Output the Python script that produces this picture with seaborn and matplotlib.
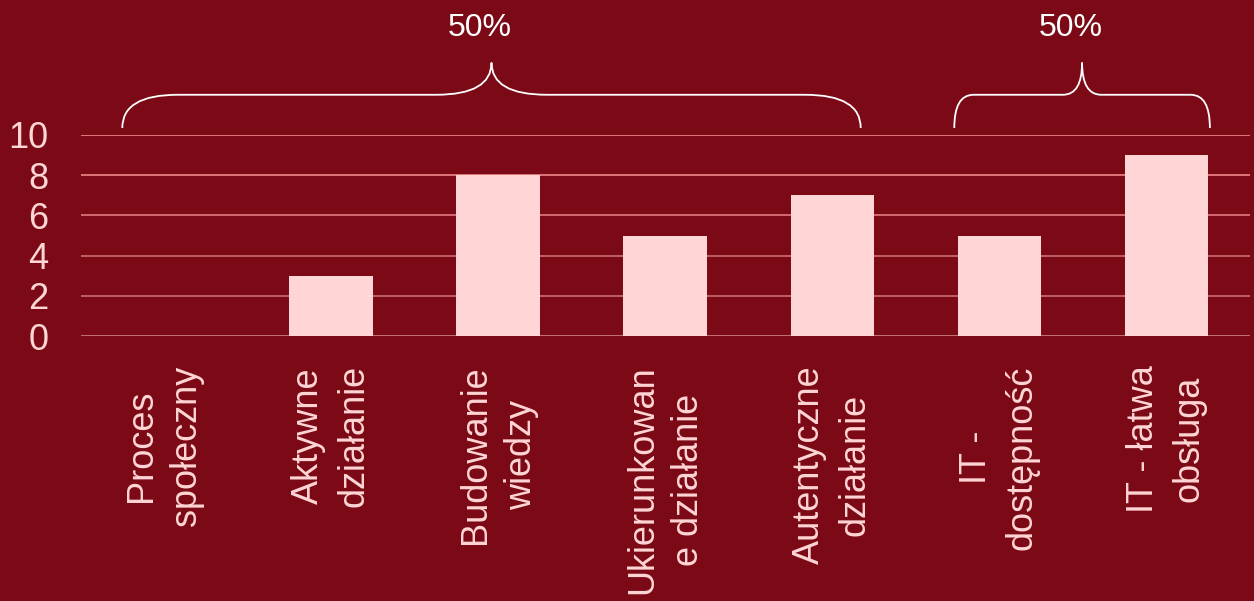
import numpy as np
import pandas as pd
import seaborn as sns
import matplotlib.pyplot as plt
from matplotlib.path import Path
from matplotlib.patches import PathPatch

# data
categories = ["Proces\nspołeczny", "Aktywne\ndziałanie", "Budowanie\nwiedzy",
              "Ukierunkowan\ne działanie", "Autentyczne\ndziałanie",
              "IT -\ndostępność", "IT - łatwa\nobsługa"]
values = [0, 3, 8, 5, 7, 5, 9]
y_ticks = [0, 2, 4, 6, 8, 10]

# groups marked with braces above the bars: (first index, last index, label)
groups = [(0, 4, "50%"), (5, 6, "50%")]

bg = "#7B0A16"
bar_col = "#FFD5D5"
# gridlines fade a little towards the bottom in the original
grid_cols = ["#D08286", "#C86E72", "#CC6E72", "#E07A7E", "#F08689", "#F28A8C"]

sns.set_style("white")
plt.rcParams['font.family'] = ['Liberation Sans', 'DejaVu Sans']

df = pd.DataFrame({"cat": categories, "val": values})

fig = plt.figure(figsize=(12.54, 6.01), dpi=100, facecolor=bg)
ax = fig.add_axes([0.0642, 0.4409, 0.9326, 0.3345])
ax.set_facecolor(bg)

sns.barplot(data=df, x="cat", y="val", color=bar_col, width=0.5,
            saturation=1, linewidth=0, ax=ax, zorder=3)

ax.set_ylim(0, 10)
ax.set_xlim(-0.5, len(categories) - 0.5)
ax.set_yticks(y_ticks)
for yv, gc in zip(y_ticks, grid_cols):
    ax.axhline(yv, color=gc, linewidth=1.2, zorder=1)
ax.set_xlabel("")
ax.set_ylabel("")
for s in ax.spines.values():
    s.set_visible(False)

ax.tick_params(axis='y', length=0, pad=23, labelsize=26, labelcolor=bar_col)
ax.tick_params(axis='x', length=0, pad=21, labelsize=26, labelcolor=bar_col)
for lbl in ax.get_xticklabels():
    lbl.set_rotation(90)
    lbl.set_ha('center')
    lbl.set_va('top')
    lbl.set_multialignment('center')
    lbl.set_linespacing(1.4)


def brace(ax, x0, x1, yb, ym, yt):
    c = 0.075 * (x1 - x0)
    xm = (x0 + x1) / 2
    verts = [(x0, yb), (x0, ym), (x0 + c, ym),
             (xm - c, ym),
             (xm, ym), (xm, yt),
             (xm, ym), (xm + c, ym),
             (x1 - c, ym),
             (x1, ym), (x1, yb)]
    codes = [Path.MOVETO, Path.CURVE3, Path.CURVE3,
             Path.LINETO,
             Path.CURVE3, Path.CURVE3,
             Path.CURVE3, Path.CURVE3,
             Path.LINETO,
             Path.CURVE3, Path.CURVE3]
    p = PathPatch(Path(verts, codes), fill=False, edgecolor="white",
                  linewidth=1.3, clip_on=False)
    ax.add_patch(p)
    return xm


brace_pad = [(0.25, 0.17), (0.27, 0.26)]
for (i0, i1, txt), (pl, pr) in zip(groups, brace_pad):
    xm = brace(ax, i0 - pl, i1 + pr, 10.35, 12.0, 13.6)
    ax.text(xm - 0.07, 15.3, txt, color="white", fontsize=23,
            ha='center', va='center', clip_on=False)

fig.savefig("out.png", dpi=100, facecolor=bg)
